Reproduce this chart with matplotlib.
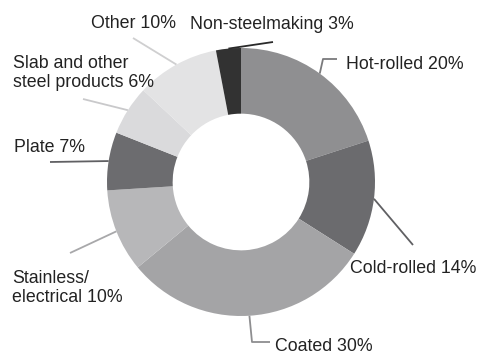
import numpy as np
import matplotlib
matplotlib.use("Agg")
import matplotlib.pyplot as plt

# Shipment mix by product, share of total (%)
categories = ["Hot-rolled", "Cold-rolled", "Coated", "Stainless/\nelectrical",
              "Plate", "Slab and other\nsteel products", "Other", "Non-steelmaking"]
shares = [20, 14, 30, 10, 7, 6, 10, 3]
colors = ["#8f8f91", "#6b6b6e", "#a4a4a6", "#b7b7b9",
          "#6c6c6f", "#dadadc", "#e3e3e4", "#323232"]
line_colors = ["#7a7a7c", "#606063", "#8e8e90", "#a8a8aa",
               "#606063", "#c9c9cb", "#cfcfd0", "#2a2a2a"]

W, H = 478, 354
fig = plt.figure(figsize=(W / 100, H / 100), dpi=100)
ax = fig.add_axes([0, 0, 1, 1])
ax.set_xlim(0, W)
ax.set_ylim(0, H)
ax.set_aspect("equal")
ax.axis("off")

cx, cy, r = 241, H - 182, 134
wedges, _ = ax.pie(shares, colors=colors, startangle=90, counterclock=False,
                   center=(cx, cy), radius=r, frame=True,
                   wedgeprops=dict(width=r * 0.49, linewidth=0))
ax.set_xlim(0, W)
ax.set_ylim(0, H)
ax.axis("off")

# Label layout (pixel coordinates from top-left): leader path after the
# wedge anchor, and text position (left x, baseline y)
leader_paths = [
    [(323, 59), (337, 59)],
    [(413, 245)],
    [(252, 342), (270, 342)],
    [(70, 253)],
    [(50, 162)],
    [(83, 99)],
    [(133, 38)],
    [(273, 42)],
]
text_pos = [(346, 69), (350, 273), (275, 351), (12, 302),
            (14, 152), (13, 87), (91, 28), (190, 29)]

for w, cat, val, path, (tx, ty), lc in zip(wedges, categories, shares,
                                           leader_paths, text_pos, line_colors):
    mid = np.deg2rad((w.theta1 + w.theta2) / 2)
    x0, y0 = cx + r * np.cos(mid), cy + r * np.sin(mid)
    xs = [x0] + [p[0] for p in path]
    ys = [y0] + [H - p[1] for p in path]
    ax.plot(xs, ys, color=lc, lw=1.3, solid_capstyle="butt", zorder=1)
    ax.text(tx, H - ty, f"{cat} {val}%", fontsize=12.8, family="Liberation Sans",
            color="#222222", ha="left", va="baseline", linespacing=1.12,
            multialignment="left")

fig.savefig("out.png", dpi=100, facecolor="white")
